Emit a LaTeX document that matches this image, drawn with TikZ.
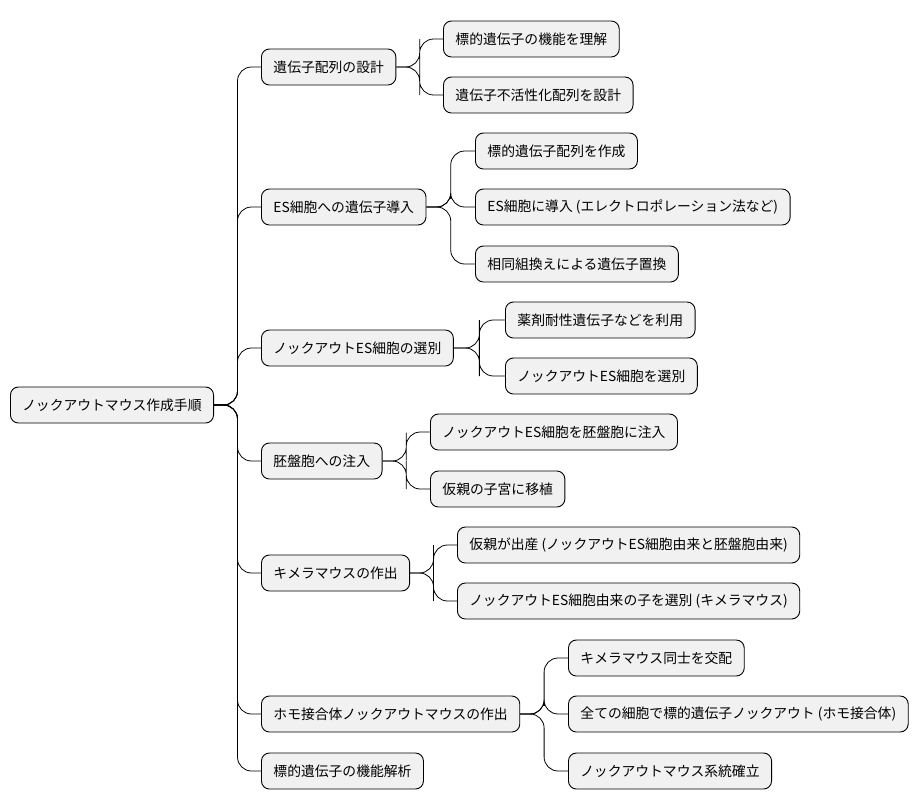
\documentclass[tikz,border=0pt]{standalone}
\usepackage{fontspec}
\setmainfont{Noto Sans CJK JP}
\usetikzlibrary{calc}
\definecolor{boxfill}{HTML}{F1F1F1}
\tikzset{
    topic/.style={draw=black, fill=boxfill, rounded corners=8pt, line width=0.9pt,
      minimum height=36pt, inner xsep=12pt, anchor=west,
      font=\fontsize{13.8}{16}\selectfont},
    branch/.style={line width=0.8pt, rounded corners=14pt},
}
\newcommand{\Branch}[2]{\draw[branch] (#1.east) -| ($(#1.east)!0.5!(#2.west)$) |- (#2.west);}

\begin{document}
\begin{tikzpicture}[x=1pt, y=-1pt]
    \useasboundingbox (0,0) rectangle (924,809);

    \node[topic] (root) at (10,405) {ノックアウトマウス作成手順};

    \node[topic] (design) at (261,67) {遺伝子配列の設計};
    \node[topic] (intro) at (261,207) {ES細胞への遺伝子導入};
    \node[topic] (select) at (261,348) {ノックアウトES細胞の選別};
    \node[topic] (inject) at (261,461) {胚盤胞への注入};
    \node[topic] (chimera) at (261,573) {キメラマウスの作出};
    \node[topic] (homo) at (261,714) {ホモ接合体ノックアウトマウスの作出};
    \node[topic] (analysis) at (261,771) {標的遺伝子の機能解析};

    \node[topic] (d1) at (443,39) {標的遺伝子の機能を理解};
    \node[topic] (d2) at (443,95) {遺伝子不活性化配列を設計};
    \node[topic] (i1) at (475,151) {標的遺伝子配列を作成};
    \node[topic] (i2) at (475,207) {ES細胞に導入 (エレクトロポレーション法など)};
    \node[topic] (i3) at (475,264) {相同組換えによる遺伝子置換};
    \node[topic] (s1) at (505,320) {薬剤耐性遺伝子などを利用};
    \node[topic] (s2) at (505,376) {ノックアウトES細胞を選別};
    \node[topic] (b1) at (430,432) {ノックアウトES細胞を胚盤胞に注入};
    \node[topic] (b2) at (430,489) {仮親の子宮に移植};
    \node[topic] (c1) at (457,545) {仮親が出産 (ノックアウトES細胞由来と胚盤胞由来)};
    \node[topic] (c2) at (457,601) {ノックアウトES細胞由来の子を選別 (キメラマウス)};
    \node[topic] (h1) at (568,658) {キメラマウス同士を交配};
    \node[topic] (h2) at (568,714) {全ての細胞で標的遺伝子ノックアウト (ホモ接合体)};
    \node[topic] (h3) at (568,771) {ノックアウトマウス系統確立};

    \foreach \child in {design, intro, select, inject, chimera, homo, analysis}
      {\Branch{root}{\child}}
    \foreach \parent/\child in {design/d1, design/d2, intro/i1, intro/i2, intro/i3,
      select/s1, select/s2, inject/b1, inject/b2, chimera/c1, chimera/c2,
      homo/h1, homo/h2, homo/h3}
      {\Branch{\parent}{\child}}
\end{tikzpicture}
\end{document}
